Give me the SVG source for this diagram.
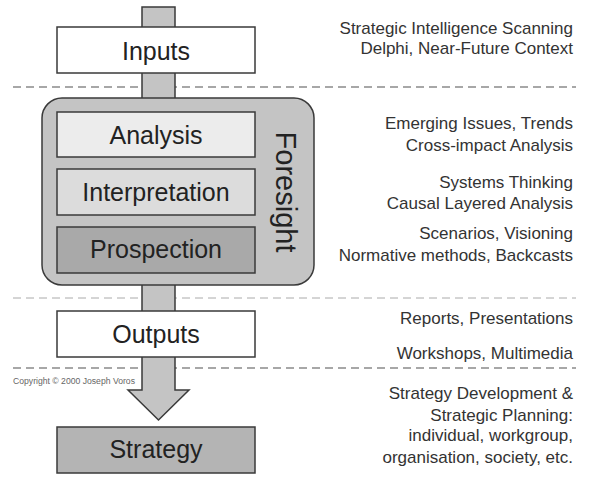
<svg xmlns="http://www.w3.org/2000/svg" width="589" height="485" viewBox="0 0 589 485">
  <style>
    .box { stroke: #3a3a3a; stroke-width: 1.5; }
    .label { font-family: "Liberation Sans", Arial, sans-serif; font-size: 25px; fill: #222; text-anchor: middle; }
    .note { font-family: "Liberation Sans", Arial, sans-serif; font-size: 17px; fill: #333; text-anchor: end; }
    .divider { stroke: #8a8a8a; stroke-width: 1.3; stroke-dasharray: 8 5; fill: none; }
    .divider-light { stroke: #aaaaaa; stroke-width: 1; stroke-dasharray: 8 5; fill: none; }
  </style>
  <rect width="589" height="485" fill="#ffffff"/>

  <!-- section dividers -->
  <g id="dividers">
    <line class="divider" x1="13" y1="87" x2="576" y2="87"/>
    <line class="divider-light" x1="13" y1="298" x2="576" y2="298"/>
    <line class="divider" x1="13" y1="368" x2="576" y2="368"/>
  </g>

  <!-- flow arrow running behind the stages -->
  <g id="connectors">
    <path d="M142,7 H175 V390 H189 L158.5,420 L128,390 H142 Z" fill="#c4c4c4" stroke="#3a3a3a" stroke-width="1.5" stroke-linejoin="miter"/>
  </g>

  <g id="inputs">
    <rect class="box" x="57" y="27" width="198" height="46" fill="#ffffff"/>
    <text class="label" x="156" y="60">Inputs</text>
  </g>

  <g id="foresight">
    <rect class="box" x="42" y="98" width="272" height="187" rx="20" ry="20" fill="#c4c4c4"/>
    <text transform="translate(276,192) rotate(90)" font-family="'Liberation Sans', Arial, sans-serif" font-size="29" fill="#222" text-anchor="middle">Foresight</text>
  </g>

  <g id="analysis">
    <rect class="box" x="57" y="112" width="198" height="45" fill="#ececec"/>
    <text class="label" x="156" y="144">Analysis</text>
  </g>

  <g id="interpretation">
    <rect class="box" x="57" y="169" width="198" height="46" fill="#dcdcdc"/>
    <text class="label" x="156" y="201">Interpretation</text>
  </g>

  <g id="prospection">
    <rect class="box" x="57" y="227" width="198" height="46" fill="#a9a9a9"/>
    <text class="label" x="156" y="258">Prospection</text>
  </g>

  <g id="outputs">
    <rect class="box" x="57" y="311" width="198" height="46" fill="#ffffff"/>
    <text class="label" x="156" y="343">Outputs</text>
  </g>

  <g id="strategy">
    <rect class="box" x="57" y="427" width="198" height="46" fill="#b4b4b4"/>
    <text class="label" x="156" y="458">Strategy</text>
  </g>

  <text x="13" y="384" font-family="'Liberation Sans', Arial, sans-serif" font-size="8.5" fill="#666" textLength="122" lengthAdjust="spacingAndGlyphs">Copyright © 2000 Joseph Voros</text>

  <!-- methods listed beside each stage -->
  <g id="methods">
    <text class="note" x="573" y="34">Strategic Intelligence Scanning</text>
    <text class="note" x="573" y="54">Delphi, Near-Future Context</text>
    <text class="note" x="573" y="129">Emerging Issues, Trends</text>
    <text class="note" x="573" y="151">Cross-impact Analysis</text>
    <text class="note" x="573" y="188">Systems Thinking</text>
    <text class="note" x="573" y="209">Causal Layered Analysis</text>
    <text class="note" x="573" y="239">Scenarios, Visioning</text>
    <text class="note" x="573" y="261">Normative methods, Backcasts</text>
    <text class="note" x="573" y="324">Reports, Presentations</text>
    <text class="note" x="573" y="359">Workshops, Multimedia</text>
    <text class="note" x="573" y="399">Strategy Development &amp;</text>
    <text class="note" x="573" y="421">Strategic Planning:</text>
    <text class="note" x="573" y="441">individual, workgroup,</text>
    <text class="note" x="573" y="463">organisation, society, etc.</text>
  </g>
</svg>
